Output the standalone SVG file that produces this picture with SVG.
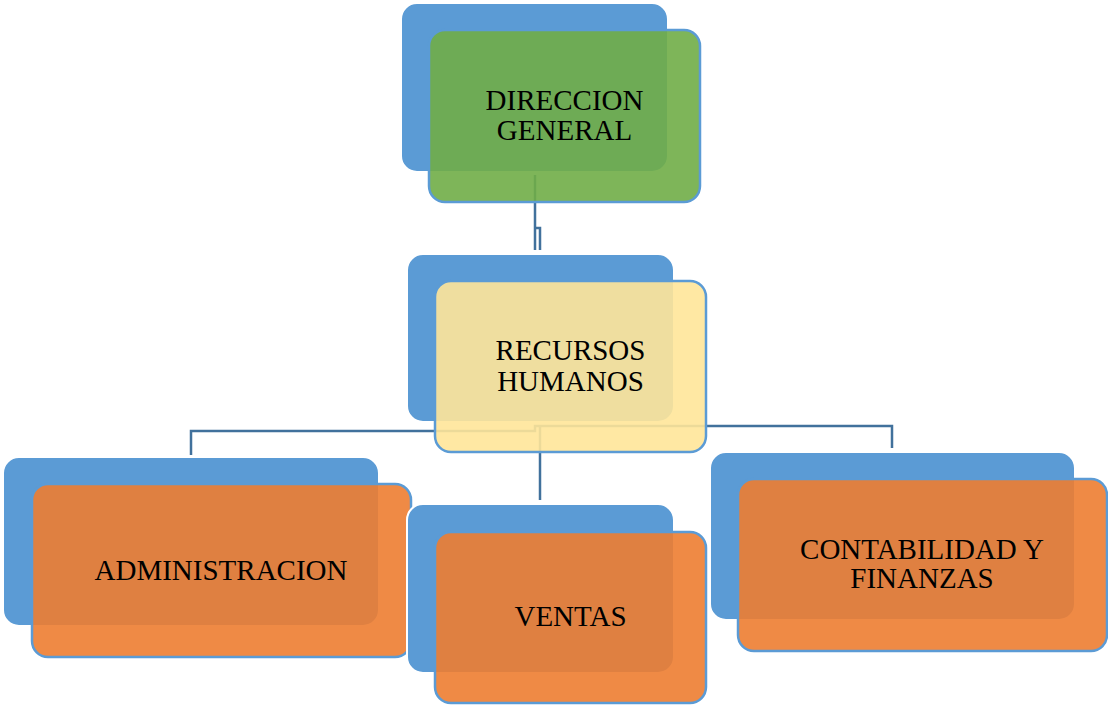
<svg xmlns="http://www.w3.org/2000/svg" width="1108" height="705" viewBox="0 0 1108 705">
<style>
.back{fill:#5B9BD5;stroke:#FFFFFF;stroke-width:2}
.front{stroke:#5B9BD5;stroke-width:2.5;fill-opacity:0.9}
.green{fill:#70AD47}
.yellow{fill:#FFE699}
.orange{fill:#ED7D31}
.lbl{font-family:"Liberation Serif","Times New Roman",serif;font-size:29px;fill:#000000;text-anchor:middle}
.conn{fill:none;stroke:#41719C;stroke-width:2.5}
</style>
<rect width="1108" height="705" fill="#FFFFFF"/>
<g id="connectors">
<path class="conn" d="M535,175 V250 M535,228 H540 V250"/>
<path class="conn" d="M191,455 V431 H535 V426 H892 V448"/>
<path class="conn" d="M540,427 V500"/>
</g>
<g id="node-direccion">
<rect class="back" x="401" y="3" width="267" height="169" rx="16"/>
<rect class="front green" x="429" y="30" width="271" height="172" rx="16"/>
<text class="lbl" x="564.5" y="110">DIRECCION</text>
<text class="lbl" x="564.5" y="140">GENERAL</text>
</g>
<g id="node-recursos">
<rect class="back" x="407" y="254" width="267" height="168" rx="16"/>
<rect class="front yellow" x="435" y="281" width="271" height="171" rx="16"/>
<text class="lbl" x="570.5" y="360">RECURSOS</text>
<text class="lbl" x="570.5" y="391">HUMANOS</text>
</g>
<g id="node-administracion">
<rect class="back" x="3" y="457" width="376" height="169" rx="16"/>
<rect class="front orange" x="32" y="484" width="379" height="173" rx="16"/>
<text class="lbl" x="221" y="580">ADMINISTRACION</text>
</g>
<g id="node-ventas">
<rect class="back" x="407" y="504" width="267" height="169" rx="16"/>
<rect class="front orange" x="435" y="532" width="271" height="171" rx="16"/>
<text class="lbl" x="570.5" y="626">VENTAS</text>
</g>
<g id="node-contabilidad">
<rect class="back" x="710" y="452" width="365" height="168" rx="16"/>
<rect class="front orange" x="738" y="479" width="369" height="172" rx="16"/>
<text class="lbl" x="922" y="559">CONTABILIDAD Y</text>
<text class="lbl" x="922" y="588">FINANZAS</text>
</g>
</svg>
